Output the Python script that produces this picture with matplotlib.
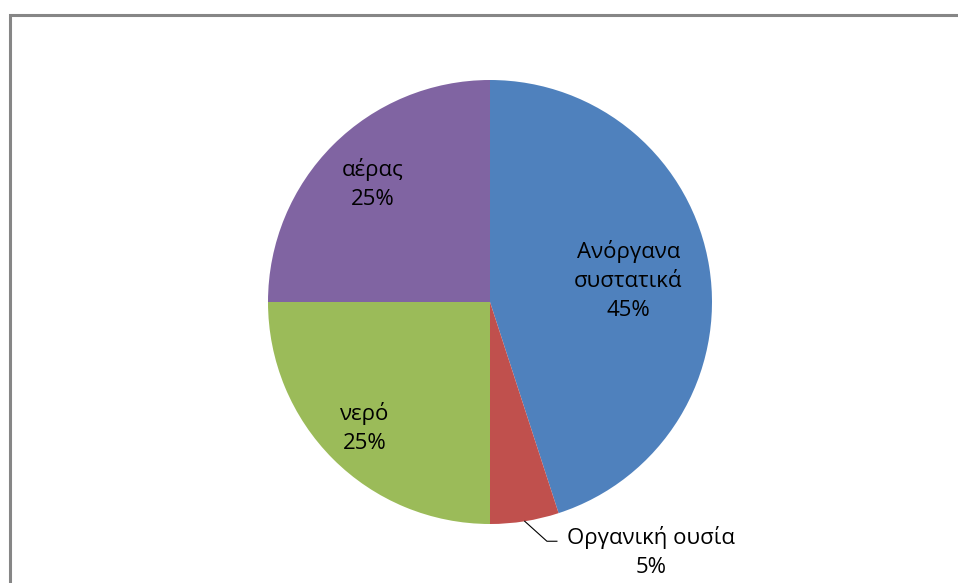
"""
Soil composition pie chart (Greek labels), Excel-style.
"""

import matplotlib.pyplot as plt
import numpy as np
from matplotlib.patches import Rectangle

plt.rcParams["font.family"] = ["Open Sans", "DejaVu Sans"]

# -----------------------------------------------------------------------------
# Data
# -----------------------------------------------------------------------------
labels = ["Ανόργανα\nσυστατικά", "Οργανική ουσία", "νερό", "αέρας"]
shares = [45, 5, 25, 25]
colors = ["#4F81BD", "#C0504D", "#9BBB59", "#8064A2"]

# label distance from centre (fraction of radius); None -> outside with leader
label_dist = [0.63, None, 0.80, 0.75]

fig = plt.figure(figsize=(9.58, 5.83), dpi=100)

# grey chart-area frame (runs off the right and bottom edge like the original)
fig.patches.append(Rectangle((9.5 / 958, -0.02), 1.2, 1 - 14.5 / 583 + 0.02,
                             transform=fig.transFigure, fill=False,
                             edgecolor="#868686", linewidth=2.2, zorder=0))

ax = fig.add_axes([268 / 958, (583 - 302 - 222) / 583, 444 / 958, 444 / 583])
wedges, _ = ax.pie(shares, colors=colors, startangle=90, counterclock=False,
                   radius=1.0, wedgeprops=dict(linewidth=0))
ax.set_xlim(-1, 1)
ax.set_ylim(-1, 1)
ax.set_aspect("equal")
ax.axis("off")

FS = 16
LS = 1.5

for w, lab, val, d in zip(wedges, labels, shares, label_dist):
    mid = np.deg2rad((w.theta1 + w.theta2) / 2)
    txt = f"{lab}\n{val}%"
    if d is not None:
        ax.text(d * np.cos(mid), d * np.sin(mid), txt, ha="center", va="center",
                fontsize=FS, color="black", linespacing=LS)
    else:
        # outside label with elbow leader line
        ex, ey = np.cos(mid), np.sin(mid)
        kx, ky = ex + 0.10, ey - 0.09
        hx = kx + 0.045
        ax.plot([ex, kx, hx], [ey, ky, ky], color="black", lw=0.8,
                clip_on=False)
        ax.text(hx + 0.425, ky - 0.05, txt, ha="center", va="center",
                fontsize=FS, color="black", linespacing=LS,
                multialignment="center", clip_on=False)

fig.savefig("out.png", dpi=100)
